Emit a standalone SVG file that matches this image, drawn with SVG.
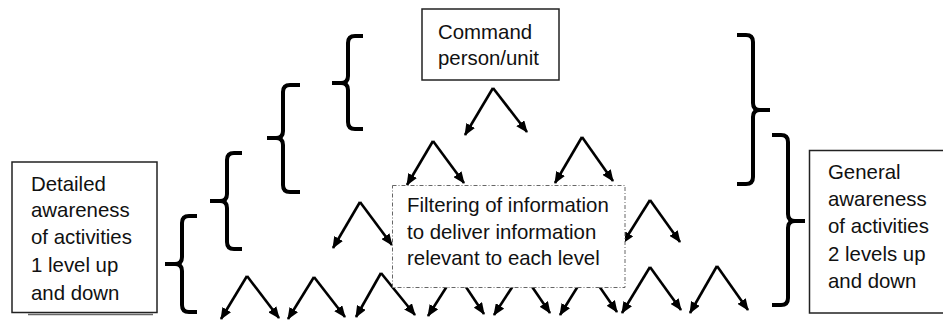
<svg xmlns="http://www.w3.org/2000/svg" width="943" height="322" viewBox="0 0 943 322">
  <defs>
    <marker id="head" viewBox="0 0 12 10" refX="11" refY="5" markerWidth="12" markerHeight="10" markerUnits="userSpaceOnUse" orient="auto">
      <path d="M0,0 L12,5 L0,10 z" fill="#000"/>
    </marker>
    <style>
      .box { fill: #fff; stroke: #222; stroke-width: 1.5; }
      .filter { fill: #fff; stroke: #666; stroke-width: 1; stroke-dasharray: 4 2 1 2; }
      .txt { font-family: "Liberation Sans", Arial, sans-serif; font-size: 20.4px; fill: #111; }
      .brace { fill: none; stroke: #000; stroke-width: 4; stroke-linecap: butt; stroke-linejoin: round; }
      .arr { stroke: #000; stroke-width: 2.6; fill: none; marker-end: url(#head); }
    </style>
  </defs>

  <rect width="943" height="322" fill="#fff"/>

  <!-- opening braces on the left, stepping down -->
  <g id="braces-left">
    <path class="brace" d="M363,36 H355 Q348,36 348,43 V76 Q348,83 341,83 H332 M341,83 Q348,83 348,90 V122 Q348,129 355,129 H363"/>
    <path class="brace" d="M300,85 H290 Q283,85 283,92 V131 Q283,138 276,138 H267 M276,138 Q283,138 283,145 V185 Q283,192 290,192 H300"/>
    <path class="brace" d="M242,153 H234 Q227,153 227,160 V194 Q227,201 220,201 H210 M220,201 Q227,201 227,208 V242 Q227,249 234,249 H242"/>
    <path class="brace" d="M197,216 H189 Q182,216 182,223 V257 Q182,264 175,264 H165 M175,264 Q182,264 182,271 V305 Q182,312 189,312 H197"/>
  </g>

  <!-- closing braces on the right -->
  <g id="braces-right">
    <path class="brace" d="M737,35 H746 Q753,35 753,42 V103 Q753,110 760,110 H770 M760,110 Q753,110 753,117 V177 Q753,184 746,184 H737"/>
    <path class="brace" d="M772,135 H781 Q788,135 788,142 V214 Q788,221 795,221 H805 M795,221 Q788,221 788,228 V298 Q788,305 781,305 H772"/>
  </g>

  <!-- branching arrows, level by level -->
  <g id="connectors">
    <!-- level 1 -->
    <path class="arr" d="M493,88 L465,135"/>
    <path class="arr" d="M493,88 L527,132"/>
    <!-- level 2 -->
    <path class="arr" d="M433,141 L407,185"/>
    <path class="arr" d="M433,141 L464,183"/>
    <path class="arr" d="M582,137 L555,183"/>
    <path class="arr" d="M582,137 L613,181"/>
    <!-- level 3 -->
    <path class="arr" d="M360,202 L333,248"/>
    <path class="arr" d="M360,202 L392,245"/>
    <path class="arr" d="M650,200 L623,243"/>
    <path class="arr" d="M650,200 L680,242"/>
    <!-- level 4 -->
    <path class="arr" d="M247,276 L221,319"/>
    <path class="arr" d="M247,276 L279,318"/>
    <path class="arr" d="M314,277 L288,319"/>
    <path class="arr" d="M314,277 L345,317"/>
    <path class="arr" d="M381,273 L356,317"/>
    <path class="arr" d="M381,273 L415,315"/>
    <path class="arr" d="M456,272 L428,316"/>
    <path class="arr" d="M456,272 L484,314"/>
    <path class="arr" d="M522,272 L494,315"/>
    <path class="arr" d="M522,272 L550,313"/>
    <path class="arr" d="M588,270 L560,315"/>
    <path class="arr" d="M588,270 L617,312"/>
    <path class="arr" d="M650,267 L622,313"/>
    <path class="arr" d="M650,267 L681,310"/>
    <path class="arr" d="M717,266 L690,313"/>
    <path class="arr" d="M717,266 L748,310"/>
  </g>

  <g id="command">
    <rect class="box" x="422" y="9" width="137" height="71"/>
    <text class="txt" x="438" y="39">Command</text>
    <text class="txt" x="438" y="65">person/unit</text>
  </g>

  <g id="filtering">
    <rect class="filter" x="392.5" y="185.5" width="232.5" height="102"/>
    <text class="txt" x="407" y="212">Filtering of information</text>
    <text class="txt" x="407" y="239">to deliver information</text>
    <text class="txt" x="407" y="265">relevant to each level</text>
  </g>

  <g id="detailed">
    <line x1="28" y1="314.5" x2="153" y2="314.5" stroke="#666" stroke-width="1.5"/>
    <rect class="box" x="12" y="162" width="145" height="150.5"/>
    <text class="txt" x="31" y="191">Detailed</text>
    <text class="txt" x="31" y="217">awareness</text>
    <text class="txt" x="31" y="244">of activities</text>
    <text class="txt" x="31" y="272">1 level up</text>
    <text class="txt" x="31" y="300">and down</text>
  </g>

  <g id="general">
    <rect class="box" x="809.5" y="150.5" width="150" height="162.5"/>
    <text class="txt" x="828" y="179">General</text>
    <text class="txt" x="828" y="206">awareness</text>
    <text class="txt" x="828" y="233">of activities</text>
    <text class="txt" x="828" y="261">2 levels up</text>
    <text class="txt" x="828" y="288">and down</text>
  </g>
</svg>
